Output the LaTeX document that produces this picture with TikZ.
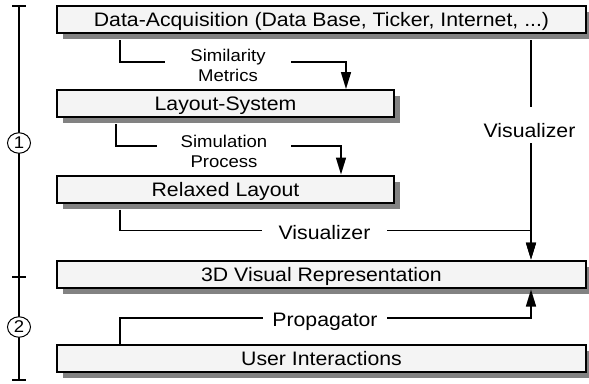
\documentclass[tikz,border=0pt]{standalone}
\usepackage{fontspec}
\setmainfont{Liberation Sans}[FakeStretch=1.09]
\usetikzlibrary{shadows,arrows.meta,shapes.geometric}
\definecolor{boxfill}{HTML}{F4F4F4}
\definecolor{shadowgray}{HTML}{828282}
\begin{document}
\begin{tikzpicture}[x=1pt,y=-1pt,
  box/.style={draw, line width=2pt, fill=boxfill, inner sep=0pt,
    font=\fontsize{19.5}{22}\selectfont, text height=14pt, text depth=0pt,
    drop shadow={shadow xshift=6pt, shadow yshift=-6pt, fill=shadowgray, opacity=1}},
  conn/.style={line width=1.5pt, -{Triangle[length=17pt,width=10pt]}},
  lbl/.style={fill=white, font=\fontsize{19.5}{22}\selectfont, inner ysep=3pt,
    text height=14pt, text depth=0pt, anchor=base},
  slbl/.style={fill=white, font=\fontsize{17}{20}\selectfont, align=center, inner ysep=0pt},
  bracket/.style={line width=2pt},
  numcirc/.style={ellipse, draw, line width=1pt, fill=white, minimum width=23pt,
    minimum height=20.5pt, inner sep=0pt, font=\fontsize{17}{17}\selectfont}
]
\useasboundingbox[fill=white] (0,0) rectangle (589,383);

% boxes
\node[box, minimum width=529pt, minimum height=27pt] (da) at (321.5,19.5) {Data-Acquisition (Data Base, Ticker, Internet, ...)};
\node[box, minimum width=337pt, minimum height=27pt] (ls) at (225.5,103.5) {Layout-System};
\node[box, minimum width=337pt, minimum height=27pt] (rl) at (225.5,189) {Relaxed Layout};
\node[box, minimum width=529pt, minimum height=27pt] (vr) at (321.5,274) {3D Visual Representation};
\node[box, minimum width=529pt, minimum height=27pt] (ui) at (321.5,358.5) {User Interactions};

% connectors
\draw[conn] ([yshift=-6pt]da.south -| 120,0) |- (228,62) -| (ls.north -| 346,0);
\draw[conn] ([yshift=-6pt]ls.south -| 116,0) |- (224,146) -| (rl.north -| 341,0);
\draw[conn] ([yshift=-6pt]rl.south -| 120,0) |- (325,230.5) -| (vr.north -| 531,0);
\draw[conn] ([yshift=-6pt]da.south -| 531,0) -- (vr.north -| 531,0);
\draw[conn] (ui.north -| 120,0) |- (325,318) -| ([yshift=-1pt]vr.south -| 531,0);

% labels
\node[slbl, inner xsep=25pt] (sm) at (228,65) {Similarity\\Metrics};
\node[slbl, inner xsep=24pt] (sp) at (224,151) {Simulation\\Process};
\node[lbl, inner xsep=16.5pt] (v1) at (324.5,239) {Visualizer};
\node[lbl, inner xsep=9.5pt] (pr) at (325,326) {Propagator};
\node[lbl, inner sep=0pt, text height=30pt, text depth=6pt] (v2) at (529.5,137) {Visualizer};

% phase bracket
\draw[bracket] (19,6) -- (19,380);
\draw[bracket] (12,6) -- (26,6);
\draw[bracket] (12,277) -- (26,277);
\draw[bracket] (12,380) -- (26,380);
\node[numcirc] (p1) at (19,143) {1};
\node[numcirc] (p2) at (19,327) {2};
\end{tikzpicture}
\end{document}
